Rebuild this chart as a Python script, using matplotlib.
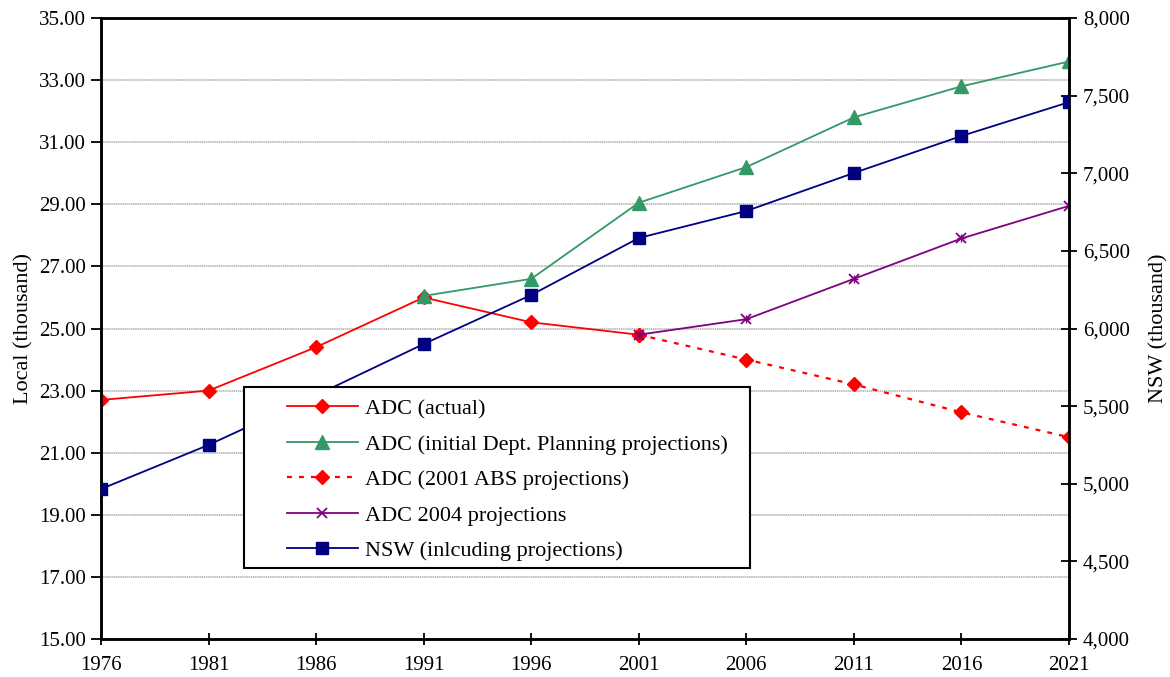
import matplotlib
matplotlib.use("Agg")
import matplotlib.pyplot as plt
from matplotlib.patches import Rectangle
from matplotlib.ticker import FuncFormatter

plt.rcParams['font.family'] = ['Liberation Serif', 'DejaVu Serif']

years = [1976, 1981, 1986, 1991, 1996, 2001, 2006, 2011, 2016, 2021]

# local series (thousand)
adc_actual_years = [1976, 1981, 1986, 1991, 1996, 2001]
adc_actual = [22.7, 23.0, 24.4, 26.0, 25.2, 24.8]

dop_years = [1991, 1996, 2001, 2006, 2011, 2016, 2021]
adc_dop = [26.05, 26.6, 29.05, 30.2, 31.8, 32.8, 33.6]

abs_years = [2001, 2006, 2011, 2016, 2021]
adc_abs = [24.8, 24.0, 23.2, 22.3, 21.5]

p2004_years = [2001, 2006, 2011, 2016, 2021]
adc_2004 = [24.8, 25.3, 26.6, 27.9, 28.95]

# NSW (thousand), right axis
nsw = [4966, 5250, 5570, 5900, 6216, 6583, 6757, 7002, 7240, 7458]

RED = '#FF0000'
GREEN = '#339966'
PURPLE = '#800080'
NAVY = '#000080'

fig = plt.figure(figsize=(11.7, 6.77), dpi=100)
ax = fig.add_axes([0.0863, 0.0561, 0.8274, 0.9173])
ax2 = ax.twinx()

h1, = ax.plot(adc_actual_years, adc_actual, color=RED, lw=1.3, marker='D',
              ms=7.5, label='ADC (actual)', zorder=3)
h2, = ax.plot(dop_years, adc_dop, color=GREEN, lw=1.3, marker='^', ms=9.5,
              label='ADC (initial Dept. Planning projections)', zorder=3)
h3, = ax.plot(abs_years, adc_abs, color=RED, lw=1.6, ls=(0, (2.2, 3.2)),
              marker='D', ms=7.5, label='ADC (2001 ABS projections)', zorder=3)
h4, = ax.plot(p2004_years, adc_2004, color=PURPLE, lw=1.3, marker='x',
              ms=6.5, mew=1.3, label='ADC 2004 projections', zorder=3)
# asterisk: add '+' on top of 'x'
ax.plot(p2004_years, adc_2004, ls='none', color=PURPLE, marker='+', ms=5.5,
        mew=1.0, zorder=3)
h5, = ax2.plot(years, nsw, color=NAVY, lw=1.3, marker='s', ms=8,
               label='NSW (inlcuding projections)', zorder=3)

ax.set_xlim(1976, 2021)
ax.set_ylim(15, 35)
ax2.set_ylim(4000, 8000)
ax.set_xticks(years)
ax.set_yticks(range(15, 36, 2))
ax2.set_yticks(range(4000, 8001, 500))
ax.yaxis.set_major_formatter(FuncFormatter(lambda v, p: f'{v:.2f}'))
ax2.yaxis.set_major_formatter(FuncFormatter(lambda v, p: f'{int(v):,}'))

for y in range(17, 34, 2):
    ax.axhline(y, color='#B0B0B0', lw=1.1, ls=(0, (1, 0.4)), zorder=1)

ax.tick_params(axis='y', direction='out', length=7, width=1.3, labelsize=15, pad=4)
ax.tick_params(axis='x', direction='inout', length=9, width=1.3, labelsize=15, pad=8)
ax2.tick_params(axis='y', direction='inout', length=12, width=1.3, labelsize=15, pad=4)
for a in (ax, ax2):
    for s in a.spines.values():
        s.set_linewidth(1.8)
        s.set_color('black')

ax.set_ylabel('Local (thousand)', fontsize=16, labelpad=4)
ax2.set_ylabel('NSW (thousand)', fontsize=16, labelpad=14)

# legend box
ax2.add_patch(Rectangle((0.148, 0.114), 0.522, 0.292, transform=ax2.transAxes,
                        facecolor='white', edgecolor='black', lw=1.5, zorder=4))
leg = ax2.legend(handles=[h1, h2, h3, h4, h5], loc='upper left',
                 bbox_to_anchor=(0.192, 0.387), frameon=False, fontsize=16,
                 borderpad=0, borderaxespad=0, handlelength=3.2,
                 handletextpad=0.3, labelspacing=0.67)
leg.set_zorder(5)

fig.savefig('out.png', dpi=100)
